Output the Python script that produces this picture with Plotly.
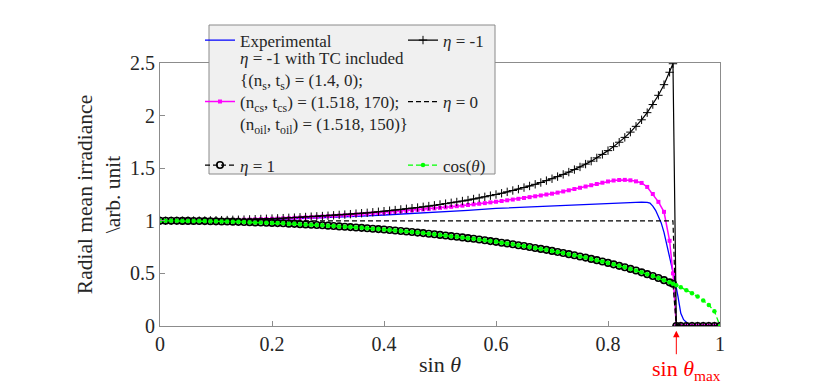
import plotly.graph_objects as go

# sin(theta) sample grid shared by the theory curves
sin_theta = [
    0.00, 0.01, 0.02, 0.03, 0.04, 0.05, 0.06, 0.07, 0.08, 0.09,
    0.10, 0.11, 0.12, 0.13, 0.14, 0.15, 0.16, 0.17, 0.18, 0.19,
    0.20, 0.21, 0.22, 0.23, 0.24, 0.25, 0.26, 0.27, 0.28, 0.29,
    0.30, 0.31, 0.32, 0.33, 0.34, 0.35, 0.36, 0.37, 0.38, 0.39,
    0.40, 0.41, 0.42, 0.43, 0.44, 0.45, 0.46, 0.47, 0.48, 0.49,
    0.50, 0.51, 0.52, 0.53, 0.54, 0.55, 0.56, 0.57, 0.58, 0.59,
    0.60, 0.61, 0.62, 0.63, 0.64, 0.65, 0.66, 0.67, 0.68, 0.69,
    0.70, 0.71, 0.72, 0.73, 0.74, 0.75, 0.76, 0.77, 0.78, 0.79,
    0.80, 0.81, 0.82, 0.83, 0.84, 0.85, 0.86, 0.87, 0.88, 0.89,
    0.90, 0.91, 0.916, 0.922,
    0.93, 0.94, 0.95, 0.96, 0.97, 0.98, 0.99, 1.00,
]

cos_theta = [
    1.000, 1.000, 1.000, 1.000, 0.999, 0.999, 0.998, 0.998, 0.997, 0.996,
    0.995, 0.994, 0.993, 0.992, 0.990, 0.989, 0.987, 0.985, 0.984, 0.982,
    0.980, 0.978, 0.976, 0.973, 0.971, 0.968, 0.966, 0.963, 0.960, 0.957,
    0.954, 0.951, 0.947, 0.944, 0.940, 0.937, 0.933, 0.929, 0.925, 0.921,
    0.917, 0.912, 0.908, 0.903, 0.898, 0.893, 0.888, 0.883, 0.877, 0.872,
    0.866, 0.860, 0.854, 0.848, 0.842, 0.835, 0.829, 0.822, 0.815, 0.807,
    0.800, 0.792, 0.785, 0.777, 0.768, 0.760, 0.751, 0.742, 0.733, 0.724,
    0.714, 0.704, 0.694, 0.683, 0.673, 0.661, 0.650, 0.638, 0.626, 0.613,
    0.600, 0.586, 0.572, 0.558, 0.543, 0.527, 0.510, 0.493, 0.475, 0.456,
    0.436, 0.415, 0.401, 0.387,
    0.368, 0.341, 0.312, 0.280, 0.243, 0.199, 0.141, 0.000,
]

eta_pos1 = [
    1.000, 1.000, 1.000, 1.000, 0.999, 0.999, 0.998, 0.998, 0.997, 0.996,
    0.995, 0.994, 0.993, 0.992, 0.990, 0.989, 0.987, 0.985, 0.984, 0.982,
    0.980, 0.978, 0.976, 0.973, 0.971, 0.968, 0.966, 0.963, 0.960, 0.957,
    0.954, 0.951, 0.947, 0.944, 0.940, 0.937, 0.933, 0.929, 0.925, 0.921,
    0.917, 0.912, 0.908, 0.903, 0.898, 0.893, 0.888, 0.883, 0.877, 0.872,
    0.866, 0.860, 0.854, 0.848, 0.842, 0.835, 0.829, 0.822, 0.815, 0.807,
    0.800, 0.792, 0.785, 0.777, 0.768, 0.760, 0.751, 0.742, 0.733, 0.724,
    0.714, 0.704, 0.694, 0.683, 0.673, 0.661, 0.650, 0.638, 0.626, 0.613,
    0.600, 0.586, 0.572, 0.558, 0.543, 0.527, 0.510, 0.493, 0.475, 0.456,
    0.436, 0.415, 0.401, 0.000,
    0.000, 0.000, 0.000, 0.000, 0.000, 0.000, 0.000, 0.000,
]

eta_neg1 = [
    1.000, 1.000, 1.000, 1.000, 1.001, 1.001, 1.002, 1.002, 1.003, 1.004,
    1.005, 1.006, 1.007, 1.009, 1.010, 1.011, 1.013, 1.015, 1.017, 1.019,
    1.021, 1.023, 1.025, 1.028, 1.030, 1.033, 1.036, 1.039, 1.042, 1.045,
    1.048, 1.052, 1.056, 1.059, 1.063, 1.068, 1.072, 1.076, 1.081, 1.086,
    1.091, 1.096, 1.102, 1.108, 1.114, 1.120, 1.126, 1.133, 1.140, 1.147,
    1.155, 1.163, 1.171, 1.179, 1.188, 1.197, 1.207, 1.217, 1.228, 1.239,
    1.250, 1.262, 1.275, 1.288, 1.301, 1.316, 1.331, 1.347, 1.364, 1.382,
    1.400, 1.420, 1.441, 1.463, 1.487, 1.512, 1.539, 1.567, 1.598, 1.631,
    1.667, 1.705, 1.747, 1.793, 1.843, 1.898, 1.960, 2.028, 2.105, 2.193,
    2.294, 2.412, 2.493, 0.000,
    0.000, 0.000, 0.000, 0.000, 0.000, 0.000, 0.000, 0.000,
]

eta_neg1_tc = [
    1.000, 1.000, 1.000, 1.001, 1.001, 1.001, 1.002, 1.002, 1.003, 1.004,
    1.005, 1.006, 1.007, 1.008, 1.009, 1.011, 1.012, 1.014, 1.016, 1.017,
    1.019, 1.021, 1.023, 1.025, 1.028, 1.030, 1.033, 1.035, 1.038, 1.041,
    1.044, 1.047, 1.050, 1.053, 1.056, 1.060, 1.063, 1.067, 1.071, 1.074,
    1.078, 1.082, 1.086, 1.091, 1.095, 1.099, 1.104, 1.108, 1.113, 1.118,
    1.123, 1.128, 1.133, 1.139, 1.144, 1.150, 1.156, 1.162, 1.168, 1.175,
    1.181, 1.188, 1.195, 1.202, 1.209, 1.217, 1.225, 1.233, 1.241, 1.250,
    1.258, 1.268, 1.279, 1.290, 1.302, 1.314, 1.326, 1.338, 1.350, 1.362,
    1.374, 1.383, 1.388, 1.389, 1.385, 1.375, 1.360, 1.322, 1.255, 1.180,
    1.085, 0.810, 0.500, 0.000,
    0.000, 0.000, 0.000, 0.000, 0.000, 0.000, 0.000, 0.000,
]

eta_zero_x = [0.0, 0.916, 0.922, 1.0]
eta_zero = [1.0, 1.0, 0.0, 0.0]

exp_x = [
    0.00, 0.05, 0.10, 0.15, 0.20, 0.25, 0.30, 0.35, 0.40, 0.45,
    0.50, 0.55, 0.60, 0.65, 0.70, 0.75, 0.80, 0.85,
    0.86, 0.87, 0.875, 0.88, 0.885, 0.89, 0.895, 0.90,
    0.905, 0.91, 0.915, 0.92, 0.925, 0.93, 0.935, 0.94, 0.945, 0.95, 1.00,
]
exp_y = [
    1.000, 1.000, 1.002, 1.006, 1.012, 1.020, 1.030, 1.042, 1.055, 1.068,
    1.082, 1.100, 1.118, 1.130, 1.140, 1.152, 1.163, 1.174,
    1.177, 1.175, 1.168, 1.140, 1.100, 1.040, 0.980, 0.890,
    0.780, 0.670, 0.545, 0.420, 0.280, 0.120, 0.060, 0.030, 0.010, 0.000, 0.000,
]

x_ticks = [0, 0.2, 0.4, 0.6, 0.8, 1]
y_ticks = [0, 0.5, 1, 1.5, 2, 2.5]
sin_theta_max = 0.922

FONT = "Liberation Serif"
INK = "#262626"
W, H = 830, 389
ML, MR, MT, MB = 160, 110, 63, 63
PW, PH = W - ML - MR, H - MT - MB


def px_x(px):
    return (px - ML) / PW


def px_y(px):
    return 1 - (px - MT) / PH


def legend_at(left_px, top_px):
    # one legend per entry so the two-column MATLAB layout can be copied
    return dict(
        x=px_x(left_px), y=px_y(top_px), xanchor="left", yanchor="top",
        bgcolor="rgba(0,0,0,0)", borderwidth=0,
        font=dict(family=FONT, size=17, color=INK),
        valign="middle",
    )


fig = go.Figure()

fig.add_trace(go.Scatter(
    x=exp_x, y=exp_y, name="Experimental", mode="lines",
    line=dict(color="#0000ff", width=1.3), legend="legend", showlegend=True,
))
fig.add_trace(go.Scatter(
    x=sin_theta, y=eta_neg1_tc, mode="lines+markers",
    name=("<i>η</i> = -1 with TC included<br>"
          "{(n<sub>s</sub>, t<sub>s</sub>) = (1.4, 0);<br>"
          "(n<sub>cs</sub>, t<sub>cs</sub>) = (1.518, 170);<br>"
          "(n<sub>oil</sub>, t<sub>oil</sub>) = (1.518, 150)}<br> "),
    line=dict(color="#ff00ff", width=1.5),
    marker=dict(symbol="square", size=4, color="#ff00ff"),
    legend="legend2",
))
fig.add_trace(go.Scatter(
    x=sin_theta, y=eta_neg1, name="<i>η</i> = -1", mode="lines+markers",
    line=dict(color="black", width=1.2),
    marker=dict(symbol="cross-thin", size=6, line=dict(color="black", width=1)),
    legend="legend4",
))
fig.add_trace(go.Scatter(
    x=eta_zero_x, y=eta_zero, name="<i>η</i> = 0", mode="lines",
    line=dict(color="black", width=1.2, dash="5px,3px"),
    legend="legend5",
))
fig.add_trace(go.Scatter(
    x=sin_theta, y=eta_pos1, name="<i>η</i> = 1", mode="lines+markers",
    line=dict(color="black", width=1.2, dash="5px,3px"),
    marker=dict(symbol="circle-open", size=6.5, line=dict(color="#1a1a1a", width=1.6)),
    legend="legend3",
))
fig.add_trace(go.Scatter(
    x=sin_theta, y=cos_theta, name="cos(<i>θ</i>)", mode="lines+markers",
    line=dict(color="#00ff00", width=1.3, dash="5px,3px"),
    marker=dict(symbol="circle", size=4.5, color="#00ff00"),
    legend="legend6",
))

# legend background box, drawn as a shape so the six entries share one frame
fig.add_shape(
    type="rect", xref="paper", yref="paper", layer="above",
    x0=px_x(209), x1=px_x(495), y0=px_y(174), y1=px_y(25),
    fillcolor="#f0f0f0", line=dict(color="#8a8a8a", width=1),
)

# sin(theta_max) marker below the axis
fig.add_annotation(
    x=sin_theta_max, xref="x", y=-0.018, yref="paper",
    text="", showarrow=True, ax=0, ay=25,
    arrowhead=2, arrowsize=1.3, arrowwidth=1, arrowcolor="#ff0000",
)
fig.add_annotation(
    x=sin_theta_max, xref="x", y=px_y(354), yref="paper",
    text="sin <i>θ</i><sub>max</sub>", showarrow=False,
    xanchor="center", yanchor="top", xshift=10,
    font=dict(family=FONT, size=22, color="#ff0000"),
)

axis_common = dict(
    showline=True, mirror=True, linecolor="#8c8c8c", linewidth=1,
    ticks="inside", ticklen=5, tickcolor="#8c8c8c",
    showgrid=False, zeroline=False, automargin=False,
    tickfont=dict(family=FONT, size=20, color=INK),
)

fig.update_xaxes(
    range=[0, 1], tickvals=x_ticks,
    title=dict(text="sin <i>θ</i>", font=dict(family=FONT, size=22, color=INK), standoff=2),
    **axis_common,
)
fig.update_yaxes(
    range=[0, 2.5], tickvals=y_ticks,
    title=dict(text="Radial mean irradiance<br>\\arb. unit",
               font=dict(family=FONT, size=21.5, color=INK), standoff=3),
    **axis_common,
)

fig.update_layout(
    width=W, height=H, showlegend=True,
    margin=dict(l=ML, r=MR, t=MT, b=MB, autoexpand=False),
    paper_bgcolor="white", plot_bgcolor="white",
    font=dict(family=FONT, color=INK),
    legend=legend_at(200, 22.5),
    legend2=legend_at(200, 39.8),
    legend3=legend_at(200, 147.5),
    legend4=legend_at(403, 22.5),
    legend5=legend_at(403, 84),
    legend6=legend_at(403, 147.5),
)

# the page body has a default 8px margin; drop it so the figure sits at 0,0
fig.write_html(
    "out.html",
    config={"displayModeBar": False},
    post_script="document.body.style.margin = '0';",
)
